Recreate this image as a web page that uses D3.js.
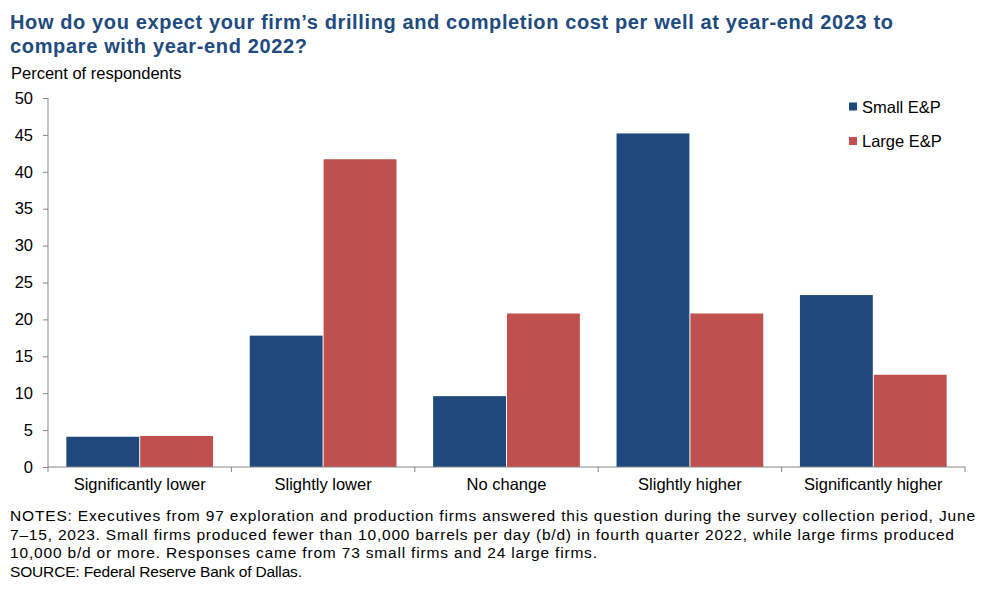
<!DOCTYPE html>
<html><head><meta charset="utf-8">
<script src="https://cdn.jsdelivr.net/npm/d3@7"></script>
<style>
body{margin:0;background:#fff;}
svg{display:block;}
</style></head>
<body>
<svg id="c" width="997" height="589"></svg>
<script>
const categories = ["Significantly lower","Slightly lower","No change","Slightly higher","Significantly higher"];
const seriesNames = ["Small E&P","Large E&P"];
const smallValues = [4.1, 17.8, 9.6, 45.2, 23.3];
const largeValues = [4.2, 41.7, 20.8, 20.8, 12.5];
const yTicks = [0,5,10,15,20,25,30,35,40,45,50];
const colors = ["#1F497D","#C0504D"];
const titleLines = ["How do you expect your firm\u2019s drilling  and completion cost per well at year-end 2023 to","compare with year-end 2022?"];
const notesLines = [
 "NOTES: Executives from 97 exploration and production firms answered this question during the survey collection period, June",
 "7\u201315, 2023. Small firms produced fewer than 10,000 barrels per day (b/d) in fourth quarter 2022, while large firms produced",
 "10,000 b/d or more. Responses  came from 73 small  firms and 24 large firms.",
 "SOURCE:  Federal Reserve  Bank of Dallas."
];

(function(){
const svg = d3.select("#c");
const pL = 48, pR = 965, pT = 98, pB = 467;
const font = "'Liberation Sans', Arial, sans-serif";

const x = d3.scaleBand().domain(categories).range([pL, pR]).paddingInner(0.2).paddingOuter(0.1);
const x1 = d3.scaleBand().domain(seriesNames).range([0, x.bandwidth()]).padding(0);
const y = d3.scaleLinear().domain([0, 50]).range([pB, pT]);

const titleW = [883, 297];
svg.append("g").selectAll("text").data(titleLines).join("text")
  .attr("x", 10).attr("y", (d,i)=>29 + i*24)
  .attr("font-family", font).attr("font-weight","bold").attr("font-size", 20)
  .attr("fill","#214A7E")
  .attr("textLength",(d,i)=>titleW[i]).attr("lengthAdjust","spacing")
  .text(d=>d);

svg.append("text").attr("x", 11).attr("y", 79).attr("font-family", font)
  .attr("font-size", 16.5).attr("fill","#000").text("Percent of respondents");

const data = categories.map((c,i)=>({cat:c, vals:[{s:seriesNames[0], v:smallValues[i]},{s:seriesNames[1], v:largeValues[i]}]}));
const g = svg.append("g");
g.selectAll("g").data(data).join("g")
  .attr("transform", d=>`translate(${x(d.cat)},0)`)
  .selectAll("rect").data(d=>d.vals).join("rect")
  .attr("x", d=>x1(d.s) + (d.s===seriesNames[1]?0.5:0))
  .attr("width", x1.bandwidth()-0.5)
  .attr("y", d=>y(d.v)).attr("height", d=>pB - y(d.v))
  .attr("fill", (d,i)=>colors[i]);

const yAxis = d3.axisLeft(y).tickValues(yTicks).tickSize(5).tickPadding(10);
const ya = svg.append("g").attr("transform",`translate(${pL},0)`).call(yAxis);
ya.select(".domain").attr("stroke","#868686").attr("d",`M0,${pT}V${pB}`);
ya.selectAll(".tick line").attr("stroke","#868686");
ya.selectAll(".tick text").attr("font-family",font).attr("font-size",16.5).attr("fill","#000");

const xa = svg.append("g").attr("transform",`translate(0,${pB})`);
xa.append("line").attr("x1",pL).attr("x2",pR).attr("y1",0).attr("y2",0).attr("stroke","#868686");
const step = x.step();
const bounds = categories.map(c=>x(c) - x.paddingInner()*step/2).concat([pR]);
bounds[0] = pL;
xa.selectAll("line.t").data(bounds).join("line").attr("class","t")
  .attr("x1",d=>d).attr("x2",d=>d).attr("y1",0).attr("y2",5).attr("stroke","#868686");
xa.selectAll("text").data(categories).join("text")
  .attr("x", d=>x(d)+x.bandwidth()/2).attr("y", 22.5)
  .attr("text-anchor","middle").attr("font-family",font).attr("font-size",16.5).attr("fill","#000")
  .text(d=>d);

const lg = svg.append("g").selectAll("g").data(seriesNames).join("g")
  .attr("transform",(d,i)=>`translate(849,${106.5 + i*34.5})`);
lg.append("rect").attr("x",0).attr("y",-4).attr("width",8).attr("height",8).attr("fill",(d,i)=>colors[i]);
lg.append("text").attr("x",13).attr("y",6).attr("font-family",font).attr("font-size",16.5).attr("fill","#000").text(d=>d);

const notesW = [965, 944, 587, 292];
svg.append("g").selectAll("text").data(notesLines).join("text")
  .attr("x", 10).attr("y",(d,i)=>521 + i*18.7)
  .attr("font-family", font).attr("font-size", 15.5).attr("fill","#000")
  .attr("textLength",(d,i)=>notesW[i]).attr("lengthAdjust","spacing")
  .text(d=>d);
})();
</script>
</body></html>
